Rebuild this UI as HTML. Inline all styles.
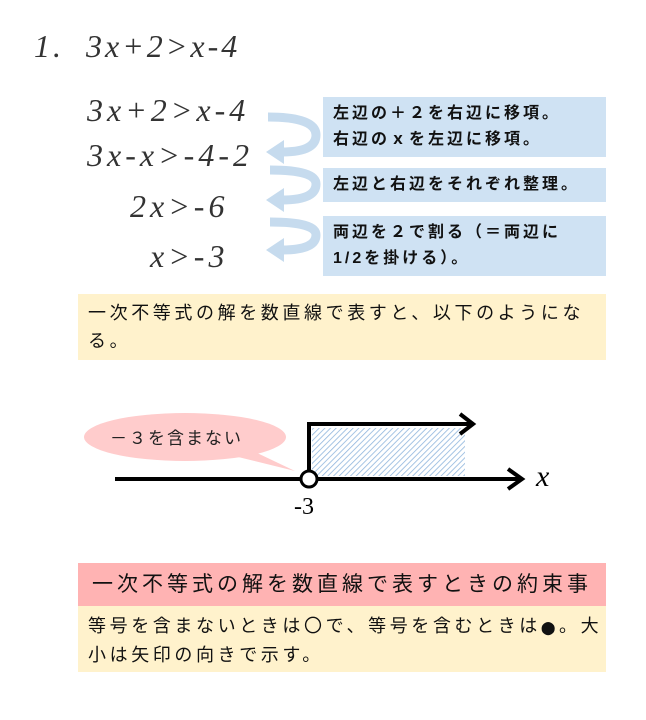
<!DOCTYPE html>
<html><head><meta charset="utf-8"><style>
body{margin:0;width:646px;height:720px;background:#fff;position:relative;overflow:hidden;font-family:"Liberation Sans","Noto Sans CJK JP",sans-serif;}
.a{position:absolute;}
.eq{font-family:"Liberation Serif",serif;font-style:italic;font-size:32px;color:#333;white-space:nowrap;letter-spacing:4px;}
.bl{background:#cfe2f3;color:#111;font-size:16px;letter-spacing:3px;line-height:26px;padding:4px 10px;box-sizing:border-box;font-weight:bold;white-space:nowrap;}
.j{font-size:18px;letter-spacing:3.6px;color:#111;line-height:28px;white-space:nowrap;}
.c{font-family:"Noto Sans CJK JP",sans-serif;}
</style></head><body>
<div class="a eq" style="left:34px;top:28px;font-size:32px;letter-spacing:3px;">1.&nbsp;&nbsp;3x+2&gt;x-4</div>
<div class="a eq" style="left:87px;top:92px;">3x+2&gt;x-4</div>
<div class="a eq" style="left:87px;top:137px;">3x-x&gt;-4-2</div>
<div class="a eq" style="left:130px;top:188px;">2x&gt;-6</div>
<div class="a eq" style="left:150px;top:238px;">x&gt;-3</div>
<svg class="a" style="left:0;top:0" width="646" height="720">
<g fill="none" stroke="#c6dbee" stroke-width="9">
<path d="M268 117 Q316 117 316 135 Q316 152 282 152"/>
<path d="M270 170 Q316 170 316 184 Q316 200 282 200"/>
<path d="M270 222 Q316 222 316 235 Q316 250 282 250"/>
</g>
<g fill="#c6dbee">
<polygon points="266,152 284,140 284,164"/>
<polygon points="266,200 284,188 284,212"/>
<polygon points="266,250 284,238 284,262"/>
</g>
<defs><pattern id="h" width="4" height="4" patternUnits="userSpaceOnUse" patternTransform="rotate(45)"><rect width="4" height="4" fill="#fff"/><line x1="0" y1="0" x2="0" y2="4" stroke="#8fb5dd" stroke-width="1.6"/></pattern></defs>
<rect x="312" y="428" width="153" height="48" fill="url(#h)"/>
<ellipse cx="185" cy="437" rx="101" ry="24" fill="#ffcccc"/>
<polygon points="255,452 295,471 230,455" fill="#ffcccc"/>
<line x1="115" y1="479" x2="520" y2="479" stroke="#000" stroke-width="4"/>
<polyline points="508,469 522,479 508,489" fill="none" stroke="#000" stroke-width="4"/>
<polyline points="309,472 309,424 470,424" fill="none" stroke="#000" stroke-width="4"/>
<polyline points="460,414 473,424 460,434" fill="none" stroke="#000" stroke-width="4"/>
<circle cx="309" cy="479" r="8" fill="#fff" stroke="#000" stroke-width="3"/>
</svg>
<div class="a bl" style="left:323px;top:97px;width:283px;height:60px;">左辺の＋２を右辺に移項。<br>右辺のｘを左辺に移項。</div>
<div class="a bl" style="left:323px;top:168px;width:283px;height:34px;">左辺と右辺をそれぞれ整理。</div>
<div class="a bl" style="left:323px;top:216px;width:283px;height:60px;">両辺を２で割る（＝両辺に<br>1/2を掛ける）。</div>
<div class="a j" style="left:78px;top:294px;width:528px;height:66px;background:#fff2cc;padding:5px 10px;box-sizing:border-box;">一次不等式の解を数直線で表すと、以下のようにな<br>る。</div>
<div class="a" style="left:110px;top:424px;font-size:17px;letter-spacing:2px;color:#222;">－３を含まない</div>
<div class="a" style="left:536px;top:460px;font-family:'Liberation Serif',serif;font-style:italic;font-size:30px;">x</div>
<div class="a" style="left:294px;top:494px;font-family:'Liberation Serif',serif;font-size:24px;">-3</div>
<div class="a" style="left:78px;top:563px;width:528px;height:43px;background:#ffb3b3;text-align:center;font-size:21px;letter-spacing:4px;line-height:43px;color:#111;white-space:nowrap;">一次不等式の解を数直線で表すときの約束事</div>
<div class="a j" style="left:78px;top:606px;width:528px;height:66px;background:#fff2cc;padding:5px 10px;box-sizing:border-box;">等号を含まないときは<span class="c">〇</span>で、等号を含むときは<span class="c" style="font-size:13px;">⬤</span>。大<br>小は矢印の向きで示す。</div>
</body></html>
